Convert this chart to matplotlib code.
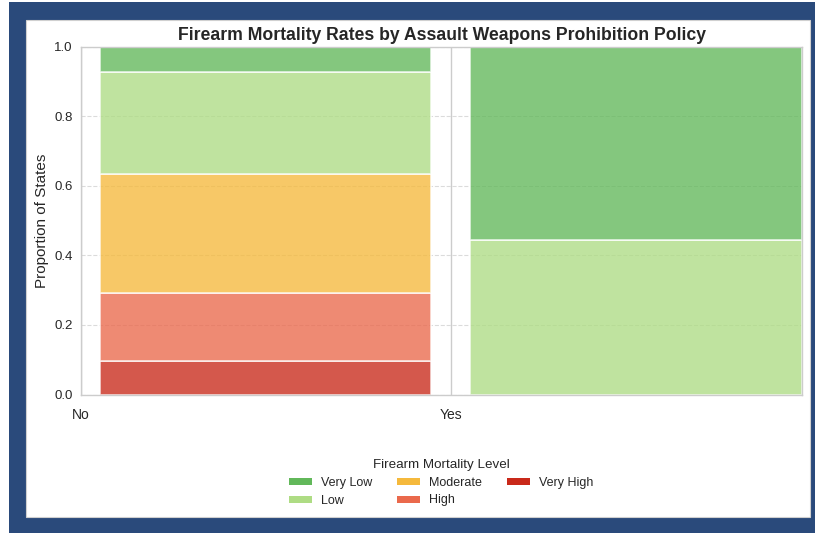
import matplotlib
matplotlib.use("Agg")
import matplotlib.pyplot as plt
from matplotlib.patches import Patch, Rectangle
import numpy as np

plt.rcParams['font.family'] = ['Liberation Sans', 'DejaVu Sans']

policies = ["No", "Yes"]
levels = ["Very Low", "Low", "Moderate", "High", "Very High"]
# state counts per mortality level for each policy group
counts_no = [3, 12, 14, 8, 4]
counts_yes = [5, 4, 0, 0, 0]
colors = ["#62b85a", "#aedc84", "#f5b93c", "#ea694c", "#c9291a"]

fig = plt.figure(figsize=(8.15, 5.35), dpi=100, facecolor="white")
# screenshot frame
W, H = 815, 535
fig.patches.append(Rectangle((9 / W, 2 / H), (815 - 9) / W, (533 - 2) / H,
                             transform=fig.transFigure, facecolor="#2a4a7b",
                             edgecolor="none", zorder=-10))
fig.patches.append(Rectangle((26 / W, (535 - 517) / H), (810 - 26) / W, (517 - 20) / H,
                             transform=fig.transFigure, facecolor="white",
                             edgecolor="#d0d0d0", linewidth=0.8, zorder=-9))

ax = fig.add_axes([81 / W, 1 - 394.5 / H, (802 - 81) / W, (394.5 - 46.5) / H])
ax.set_facecolor("white")

tick_pos = [0.0, 0.513]
bar_left = [0.026, 0.540]
bar_right = [0.486, 1.0]

for i, cnts in enumerate([counts_no, counts_yes]):
    total = sum(cnts)
    props = np.array(cnts, dtype=float) / total
    # stack from Very High at bottom up to Very Low
    bottom = 0.0
    for lvl_idx in reversed(range(len(levels))):
        p = props[lvl_idx]
        if p <= 0:
            continue
        ax.bar(bar_left[i], p, width=bar_right[i] - bar_left[i], bottom=bottom,
               align="edge", color=colors[lvl_idx], alpha=0.78,
               edgecolor="white", linewidth=1.2, zorder=2)
        bottom += p

ax.set_xlim(0, 1)
ax.set_ylim(0, 1)
ax.set_xticks(tick_pos)
ax.set_xticklabels(policies)
ax.set_yticks(np.arange(0, 1.01, 0.2))
ax.set_yticklabels([f"{v:.1f}" for v in np.arange(0, 1.01, 0.2)])
ax.tick_params(axis="both", length=0, labelsize=9.5, colors="#262626")
ax.tick_params(axis="x", pad=10, labelsize=10)
ax.tick_params(axis="y", pad=6)
ax.grid(axis="x", color="#cccccc", linewidth=1, zorder=1)
ax.grid(axis="y", color="#cccccc", linestyle="--", linewidth=0.8, alpha=0.7, zorder=1)
ax.set_axisbelow(True)
for s in ax.spines.values():
    s.set_color("#cccccc")
    s.set_linewidth(1.0)

ax.set_ylabel("Proportion of States", fontsize=11, color="#262626", labelpad=4)
ax.set_title("Firearm Mortality Rates by Assault Weapons Prohibition Policy",
             fontsize=12.7, fontweight="bold", color="#262626", pad=5)

handles = [Patch(facecolor=c, edgecolor="none") for c in colors]
leg = fig.legend(handles, levels, loc="upper center", bbox_to_anchor=(441 / W, 1 - 448 / H),
                 ncol=3, frameon=False, fontsize=9, title="Firearm Mortality Level",
                 title_fontsize=9.6, handlelength=1.85, handleheight=0.5,
                 handletextpad=0.7, columnspacing=2.0, labelspacing=0.45)
for t in leg.get_texts():
    t.set_color("#262626")
leg.get_title().set_color("#262626")

fig.savefig("out.png", dpi=100, facecolor="white")
